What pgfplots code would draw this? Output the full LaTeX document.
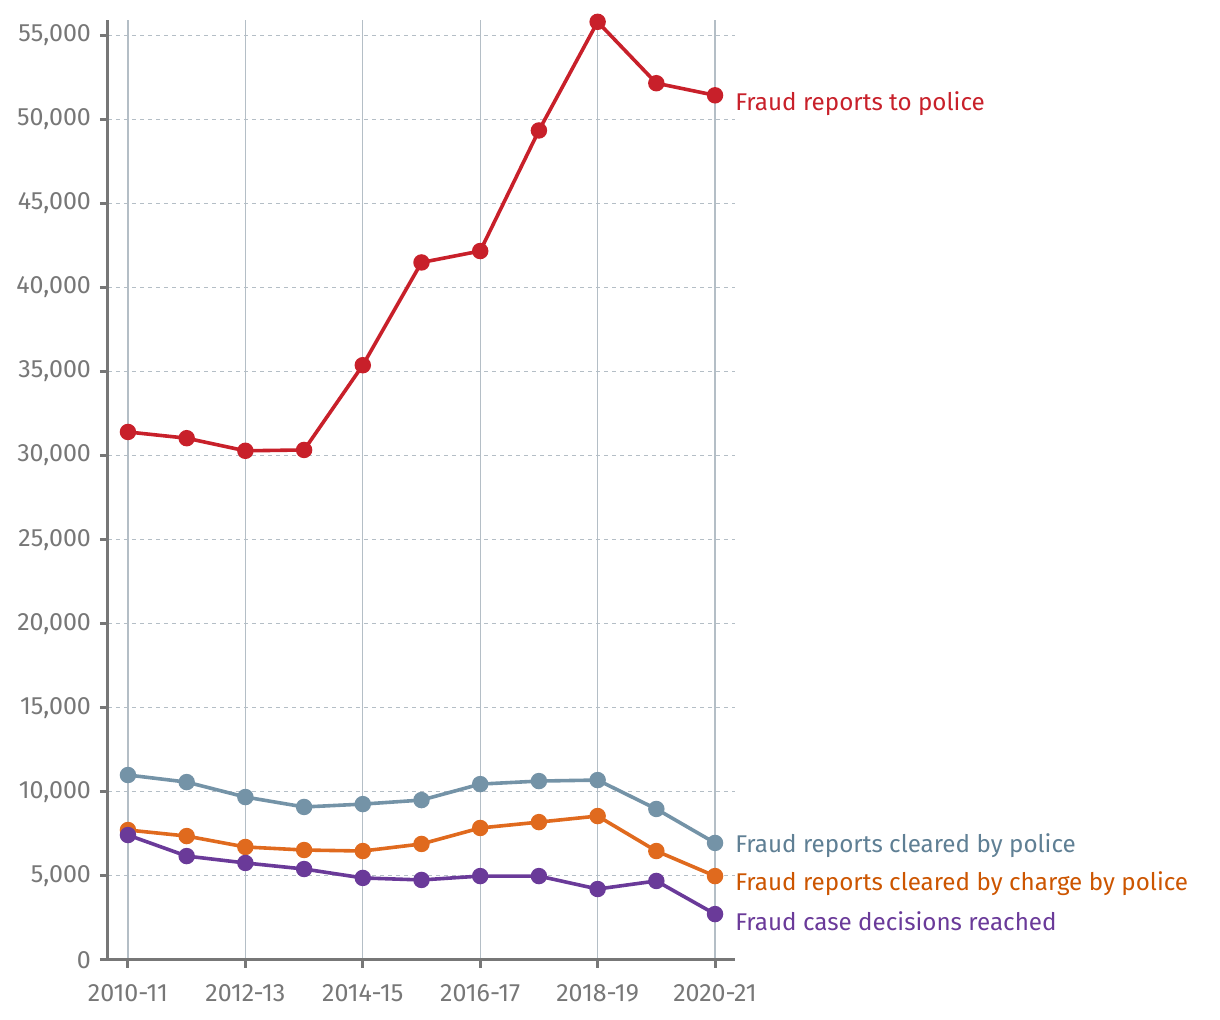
\documentclass[border=0pt]{standalone}
\usepackage{pgfplots}
\pgfplotsset{compat=1.18}
\usepackage{fontspec}
\setmainfont{Fira Sans}
\definecolor{cred}{HTML}{C8202A}
\definecolor{cblue}{HTML}{7493A7}
\definecolor{corange}{HTML}{E06A1E}
\definecolor{cpurple}{HTML}{6A3A99}
\definecolor{lblue}{HTML}{5F7F94}
\definecolor{lorange}{HTML}{CC5500}
\definecolor{axgray}{HTML}{777777}
\definecolor{gridc}{HTML}{B4BEC6}
\begin{document}
\begin{tikzpicture}
\path[use as bounding box] (-54pt,-30pt) rectangle (556pt,480pt);
\begin{axis}[
  at={(0,0)}, anchor=south west,
  scale only axis, width=313.5pt, height=470pt,
  xmin=-0.34, xmax=10.34, ymin=0, ymax=55900,
  axis x line*=bottom, axis y line*=left,
  axis line style={axgray, line width=1.5pt},
  x axis line style={-}, y axis line style={-},
  xtick={0,2,4,6,8,10},
  xticklabels={2010-11,2012-13,2014-15,2016-17,2018-19,2020-21},
  ytick={0,5000,10000,15000,20000,25000,30000,35000,40000,45000,50000,55000},
  scaled y ticks=false,
  tick align=outside, tick pos=left,
  major tick length=4pt,
  tick style={axgray, line width=1.5pt},
  xmajorgrids=true, ymajorgrids=true,
  x grid style={gridc, line width=0.65pt},
  y grid style={gridc, line width=0.55pt, dash pattern=on 2pt off 2pt},
  ticklabel style={font=\fontsize{12.5}{14}\selectfont, text=axgray},
  xticklabel style={yshift=-4.5pt},
  yticklabel style={xshift=-1pt},
  /pgf/number format/.cd, 1000 sep={,}, assume math mode=true,
  /pgfplots/.cd,
  clip=false,
]
\addplot[cred, line width=1.8pt, mark=*, mark size=3.2pt] coordinates {
(0,31400) (1,31030) (2,30280) (3,30330) (4,35370) (5,41480) (6,42160) (7,49330) (8,55790) (9,52140) (10,51420)};
\addplot[cblue, line width=1.8pt, mark=*, mark size=3.2pt] coordinates {
(0,11000) (1,10580) (2,9690) (3,9100) (4,9270) (5,9510) (6,10460) (7,10640) (8,10700) (9,8980) (10,6960)};
\addplot[corange, line width=1.8pt, mark=*, mark size=3.2pt] coordinates {
(0,7730) (1,7370) (2,6720) (3,6540) (4,6480) (5,6900) (6,7850) (7,8200) (8,8560) (9,6480) (10,4990)};
\addplot[cpurple, line width=1.8pt, mark=*, mark size=3.2pt] coordinates {
(0,7430) (1,6180) (2,5770) (3,5410) (4,4880) (5,4760) (6,4990) (7,4990) (8,4220) (9,4700) (10,2730)};
\node[anchor=west, text=cred, font=\fontsize{12.1}{14}\selectfont, inner sep=0pt] at (axis cs:10,50900) [xshift=10pt] {Fraud reports to police};
\node[anchor=west, text=lblue, font=\fontsize{12.1}{14}\selectfont, inner sep=0pt] at (axis cs:10,6780) [xshift=10pt] {Fraud reports cleared by police};
\node[anchor=west, text=lorange, font=\fontsize{12.1}{14}\selectfont, inner sep=0pt] at (axis cs:10,4520) [xshift=10pt] {Fraud reports cleared by charge by police};
\node[anchor=west, text=cpurple, font=\fontsize{12.1}{14}\selectfont, inner sep=0pt] at (axis cs:10,2320) [xshift=10pt] {Fraud case decisions reached};
\end{axis}
\end{tikzpicture}
\end{document}
